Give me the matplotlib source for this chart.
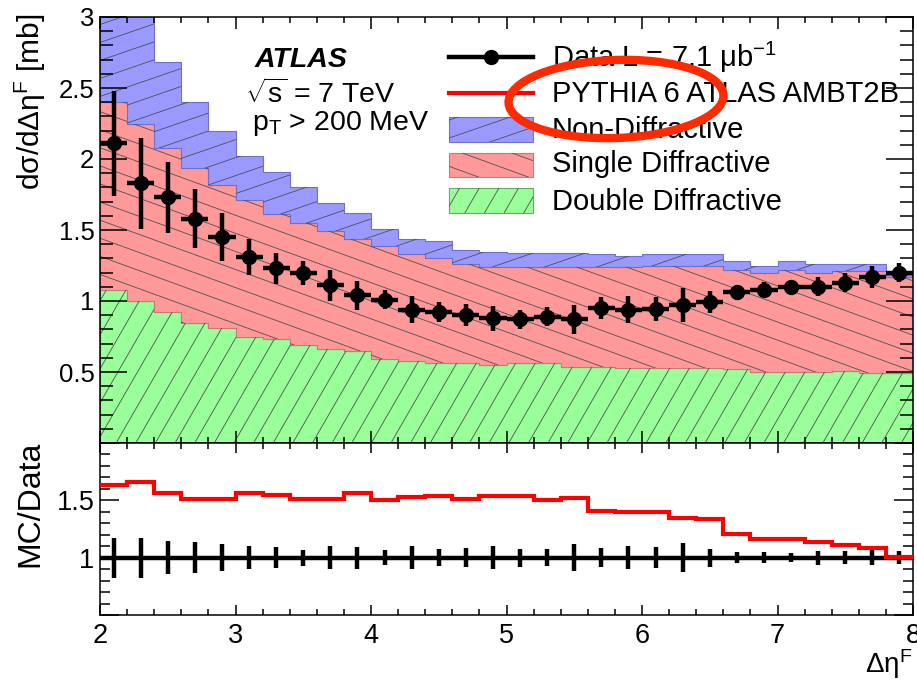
import numpy as np
import matplotlib
matplotlib.use("Agg")
import matplotlib.pyplot as plt
from matplotlib.collections import LineCollection
from matplotlib.patches import Rectangle, Ellipse
from matplotlib.lines import Line2D
from matplotlib.ticker import MultipleLocator, FuncFormatter
from matplotlib.transforms import Affine2D

plt.rcParams['font.family'] = ['Liberation Sans', 'DejaVu Sans']
plt.rcParams['mathtext.fontset'] = 'custom'
plt.rcParams['mathtext.rm'] = 'Liberation Sans'
plt.rcParams['mathtext.it'] = 'Liberation Sans:italic'
plt.rcParams['mathtext.bf'] = 'Liberation Sans:bold'

# bins in delta eta^F
edges = np.linspace(2.0, 8.0, 31)
centers = 0.5 * (edges[:-1] + edges[1:])

# data (mb)
data = [2.11, 1.83, 1.73, 1.58, 1.45, 1.31, 1.23, 1.20, 1.11, 1.04,
        1.01, 0.94, 0.92, 0.90, 0.88, 0.87, 0.89, 0.87, 0.95, 0.94,
        0.945, 0.97, 0.99, 1.06, 1.08, 1.10, 1.10, 1.13, 1.17, 1.20]
data_err = [0.37, 0.32, 0.25, 0.21, 0.17, 0.13, 0.11, 0.085, 0.11, 0.10,
            0.065, 0.097, 0.07, 0.077, 0.088, 0.068, 0.067, 0.10, 0.078, 0.097,
            0.084, 0.12, 0.077, 0.053, 0.054, 0.044, 0.066, 0.065, 0.079, 0.069]

# PYTHIA 6 components (mb), stacked DD -> SD -> ND
dd = [1.08, 1.00, 0.925, 0.845, 0.81, 0.75, 0.73, 0.69, 0.665, 0.645,
      0.595, 0.575, 0.565, 0.56, 0.55, 0.56, 0.56, 0.535, 0.535, 0.53,
      0.53, 0.525, 0.53, 0.52, 0.50, 0.50, 0.50, 0.505, 0.49, 0.49]
sd = [1.32, 1.25, 1.155, 1.095, 1.01, 0.96, 0.88, 0.86, 0.825, 0.795,
      0.795, 0.755, 0.735, 0.70, 0.69, 0.68, 0.68, 0.705, 0.705, 0.71,
      0.715, 0.72, 0.715, 0.70, 0.70, 0.72, 0.70, 0.705, 0.72, 0.68]
nd = [1.05, 0.79, 0.60, 0.46, 0.38, 0.31, 0.30, 0.25, 0.20, 0.18,
      0.12, 0.11, 0.12, 0.10, 0.105, 0.10, 0.10, 0.095, 0.09, 0.08,
      0.085, 0.085, 0.085, 0.06, 0.05, 0.06, 0.06, 0.05, 0.05, 0.01]

# MC / Data
ratio = [1.635, 1.66, 1.56, 1.51, 1.51, 1.56, 1.55, 1.51, 1.51, 1.56,
         1.50, 1.53, 1.54, 1.51, 1.54, 1.54, 1.50, 1.52, 1.41, 1.40,
         1.40, 1.35, 1.34, 1.21, 1.16, 1.16, 1.14, 1.11, 1.08, 1.01]

W, H = 917, 680
fig = plt.figure(figsize=(W / 100, H / 100), dpi=100)
px = Affine2D().scale(1.0 / W, 1.0 / H) + fig.transFigure   # pixel coords, y up


def fy(y):
    return H - y


ax1 = fig.add_axes([100 / W, 1 - 443 / H, 813 / W, 426 / H])
ax2 = fig.add_axes([100 / W, 1 - 615 / H, 813 / W, 172 / H])

blue, red, green = '#9999ff', '#ff9999', '#99ff99'


def hatch(parent, patch, angle, spacing, clip_box=None):
    # thin parallel lines across the whole figure, clipped to the patch
    a = np.deg2rad(angle)
    d = np.array([np.cos(a), np.sin(a)])
    n = np.array([-np.sin(a), np.cos(a)])
    L = 1200
    segs = [[c * n - L * d + [W / 2, H / 2], c * n + L * d + [W / 2, H / 2]]
            for c in np.arange(-L, L, spacing)]
    lc = LineCollection(segs, colors='#505050', linewidths=0.6,
                        transform=px, zorder=1.5)
    if hasattr(parent, 'add_collection'):
        parent.add_collection(lc, autolim=False)
    else:
        parent.add_artist(lc)
    lc.set_clip_path(patch)
    if clip_box is not None:
        lc.set_clip_box(clip_box)
    return lc


dd = np.array(dd)
sd = np.array(sd)
nd = np.array(nd)
low = np.zeros_like(dd)
styles = [(dd, green, '#66aa66', 60), (sd, red, '#cc7777', -20), (nd, blue, '#6f6fcc', 19)]
for vals, fc, ec, ang in styles:
    p = ax1.stairs(low + vals, edges, baseline=low.copy(), fill=True,
                   facecolor=fc, edgecolor=ec, linewidth=0.8, zorder=1)
    hatch(ax1, p, ang, 17, ax1.bbox)
    low = low + vals

ax1.errorbar(centers, data, xerr=0.1, yerr=data_err, fmt='o', color='k',
             ms=10, elinewidth=3.2, capsize=0, zorder=3)

ax1.set_xlim(2, 8)
ax1.set_ylim(0, 3)

# ratio panel
rel = np.array(data_err) / np.array(data)
ax2.errorbar(centers, np.ones_like(rel), xerr=0.1, yerr=rel, fmt='none',
             ecolor='k', elinewidth=3.2, capsize=0, zorder=2)
ax2.stairs(ratio, edges, baseline=None, color='#ff0000', linewidth=3, zorder=3)
ax2.set_xlim(2, 8)
ax2.set_ylim(0.5, 2.0)

for ax in (ax1, ax2):
    for s in ax.spines.values():
        s.set_linewidth(1.1)
    ax.xaxis.set_major_locator(MultipleLocator(1))
    ax.xaxis.set_minor_locator(MultipleLocator(0.2))
    ax.yaxis.set_major_locator(MultipleLocator(0.5))
    ax.yaxis.set_minor_locator(MultipleLocator(0.1))
    ax.tick_params(which='both', direction='in', top=True, right=True, width=1.1)

ax1.tick_params(axis='y', which='major', length=19.4, labelsize=18.5, pad=4)
ax1.tick_params(axis='y', which='minor', length=9.4)
ax1.tick_params(axis='x', which='major', length=8.6, labelbottom=False)
ax1.tick_params(axis='x', which='minor', length=4.3)
ax1.yaxis.set_major_formatter(FuncFormatter(lambda v, p: '' if abs(v) < 1e-9 else f'{v:g}'))

ax2.tick_params(axis='y', which='major', length=13.7, labelsize=19.5, pad=4)
ax2.tick_params(axis='y', which='minor', length=7.2)
ax2.tick_params(axis='x', which='major', length=7.2, labelsize=19.5, pad=6)
ax2.tick_params(axis='x', which='minor', length=4.3)
ax2.yaxis.set_major_formatter(FuncFormatter(lambda v, p: f'{v:g}' if 0.9 < v < 1.9 else ''))

# axis titles
fig.text(30, fy(13), r'dσ/dΔη$^{\mathrm{F}}$ [mb]', transform=px, rotation=90,
         ha='center', va='top', fontsize=21.5)
fig.text(30, fy(441), 'MC/Data', transform=px, rotation=90, ha='center', va='top', fontsize=23)
fig.text(912, fy(673), r'Δη$^{\mathrm{F}}$', transform=px, ha='right', va='baseline', fontsize=20)

# labels
fig.text(255, fy(67), 'ATLAS', transform=px, fontsize=20.5, fontweight='bold', fontstyle='italic')
fig.text(245, fy(103), r'$\sqrt{\mathrm{s}}$ = 7 TeV', transform=px, fontsize=20.5)
fig.text(252, fy(130), r'p$_{\mathrm{T}}$ > 200 MeV', transform=px, fontsize=20.5)

# legend
leg_text = ['Data L = 7.1 μb$^{\\mathrm{-1}}$', 'PYTHIA 6 ATLAS AMBT2B',
            'Non-Diffractive', 'Single Diffractive', 'Double Diffractive']
baselines = [67, 102, 138, 172, 210]
for t, b in zip(leg_text, baselines):
    fig.text(552, fy(b), t, transform=px, fontsize=21, va='baseline')
fig.add_artist(Line2D([449, 533], [fy(57), fy(57)], transform=px, color='k', lw=3.2))
fig.add_artist(Line2D([491], [fy(57)], transform=px, color='k', marker='o', ms=10))
fig.add_artist(Line2D([449, 533], [fy(93), fy(93)], transform=px, color='#ff0000', lw=3))
boxes = [(117, 142, blue, '#6f6fcc', 19), (153, 177, red, '#cc7777', -20),
         (188, 213, green, '#66aa66', 60)]
for top, bot, fc, ec, ang in boxes:
    r = Rectangle((449, fy(bot)), 84, bot - top, transform=px, facecolor=fc,
                  edgecolor=ec, lw=0.8)
    fig.add_artist(r)
    hatch(fig, r, ang, 17)

# highlight ellipse
fig.add_artist(Ellipse((616, fy(99)), 215, 78, angle=2, transform=px, fill=False,
                       edgecolor='#ff2a00', lw=6, zorder=10))

fig.savefig('out.png', dpi=100, facecolor='white')
